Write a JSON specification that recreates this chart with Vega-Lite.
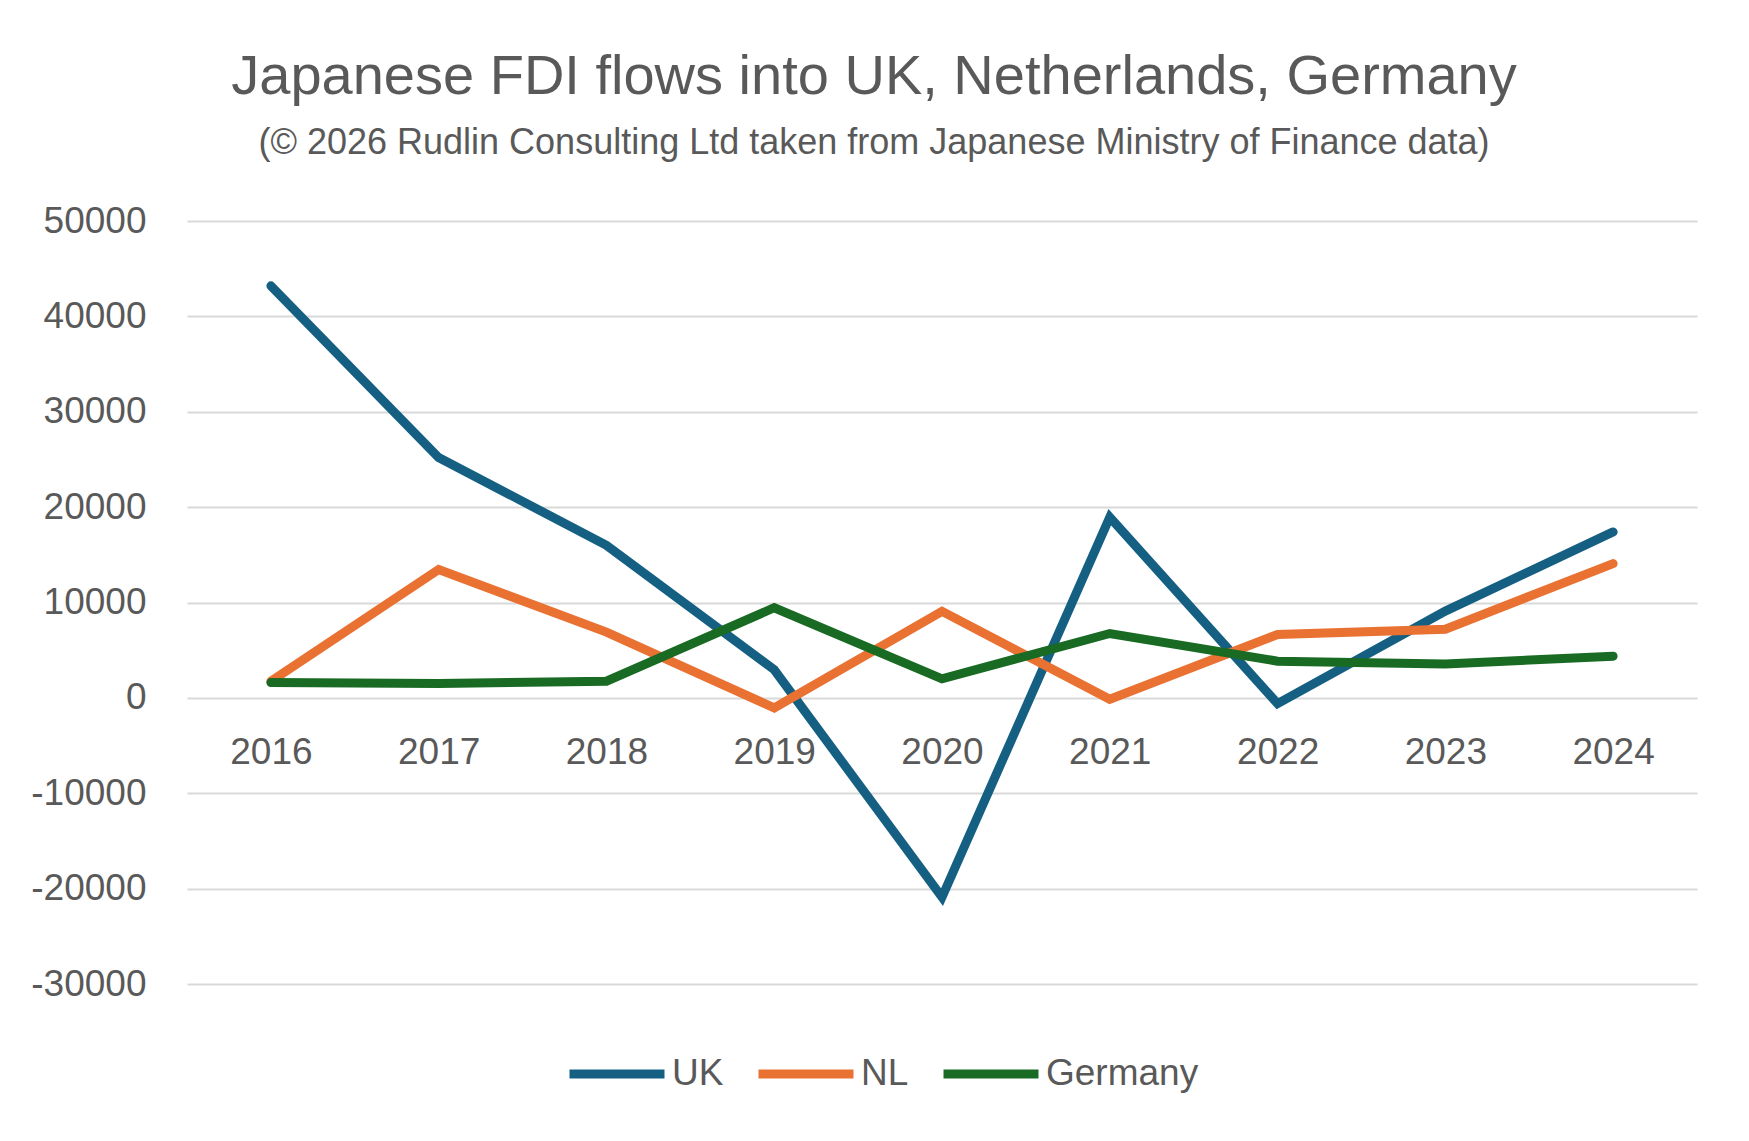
{
  "$schema": "https://vega.github.io/schema/vega-lite/v6.json",
  "width": 1510,
  "height": 763,
  "autosize": {"type": "none"},
  "padding": {"left": 187, "top": 221, "right": 52, "bottom": 157},
  "background": "white",
  "config": {
    "view": {"stroke": null},
    "font": "Liberation Sans"
  },
  "title": {
    "text": "Japanese FDI flows into UK, Netherlands, Germany",
    "subtitle": "(© 2026 Rudlin Consulting Ltd taken from Japanese Ministry of Finance data)",
    "anchor": "middle",
    "frame": "group",
    "dx": -68,
    "offset": 40,
    "fontSize": 56,
    "fontWeight": "normal",
    "color": "#595959",
    "subtitleFontSize": 36,
    "subtitleColor": "#595959",
    "subtitlePadding": 20
  },
  "data": {
    "values": [
      {"year": "2016", "country": "UK", "value": 43200},
      {"year": "2017", "country": "UK", "value": 25200},
      {"year": "2018", "country": "UK", "value": 16000},
      {"year": "2019", "country": "UK", "value": 2950},
      {"year": "2020", "country": "UK", "value": -20900},
      {"year": "2021", "country": "UK", "value": 18950},
      {"year": "2022", "country": "UK", "value": -600},
      {"year": "2023", "country": "UK", "value": 9100},
      {"year": "2024", "country": "UK", "value": 17400},
      {"year": "2016", "country": "NL", "value": 1750},
      {"year": "2017", "country": "NL", "value": 13450},
      {"year": "2018", "country": "NL", "value": 6900},
      {"year": "2019", "country": "NL", "value": -1050},
      {"year": "2020", "country": "NL", "value": 9080},
      {"year": "2021", "country": "NL", "value": -150},
      {"year": "2022", "country": "NL", "value": 6650},
      {"year": "2023", "country": "NL", "value": 7200},
      {"year": "2024", "country": "NL", "value": 14080},
      {"year": "2016", "country": "Germany", "value": 1600},
      {"year": "2017", "country": "Germany", "value": 1500},
      {"year": "2018", "country": "Germany", "value": 1750},
      {"year": "2019", "country": "Germany", "value": 9450},
      {"year": "2020", "country": "Germany", "value": 2000},
      {"year": "2021", "country": "Germany", "value": 6750},
      {"year": "2022", "country": "Germany", "value": 3850},
      {"year": "2023", "country": "Germany", "value": 3550},
      {"year": "2024", "country": "Germany", "value": 4370}
    ]
  },
  "mark": {"type": "line", "strokeWidth": 9, "strokeCap": "round"},
  "encoding": {
    "x": {
      "field": "year",
      "type": "ordinal",
      "scale": {"type": "point", "padding": 0.5},
      "axis": {
        "title": null,
        "offset": -286,
        "domain": false,
        "ticks": false,
        "grid": false,
        "labelAngle": 0,
        "labelPadding": 36,
        "labelFontSize": 37,
        "labelColor": "#595959"
      }
    },
    "y": {
      "field": "value",
      "type": "quantitative",
      "scale": {"domain": [-30000, 50000], "nice": false},
      "axis": {
        "title": null,
        "values": [-30000, -20000, -10000, 0, 10000, 20000, 30000, 40000, 50000],
        "labelExpr": "'' + datum.value",
        "domain": false,
        "ticks": false,
        "labelPadding": 41,
        "labelFontSize": 37,
        "labelColor": "#595959",
        "gridColor": "#d9d9d9",
        "gridWidth": 2
      }
    },
    "color": {
      "field": "country",
      "type": "nominal",
      "scale": {
        "domain": ["UK", "NL", "Germany"],
        "range": ["#156082", "#e97132", "#196b24"]
      },
      "legend": {
        "title": null,
        "orient": "none",
        "legendX": 378,
        "legendY": 801,
        "direction": "horizontal",
        "symbolType": "stroke",
        "symbolSize": 9025,
        "symbolStrokeWidth": 9,
        "labelOffset": 3,
        "labelFontSize": 37,
        "labelColor": "#595959",
        "columnPadding": 16
      }
    }
  }
}
